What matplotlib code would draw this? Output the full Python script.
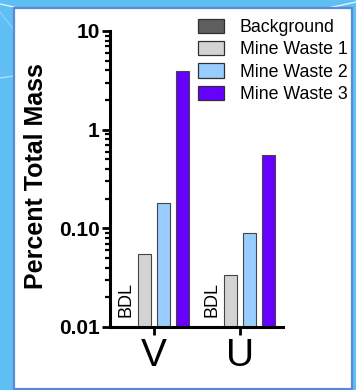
import numpy as np
import matplotlib
matplotlib.use("Agg")
import matplotlib.pyplot as plt
from matplotlib.patches import Rectangle, Patch
from matplotlib.lines import Line2D

plt.rcParams['font.family'] = ['Liberation Sans', 'DejaVu Sans']

# Elements and sample series (percent of total mass); None = below detection limit
elements = ['V', 'U']
series = ['Background', 'Mine Waste 1', 'Mine Waste 2', 'Mine Waste 3']
background = [None, None]
mine_waste_1 = [0.055, 0.034]
mine_waste_2 = [0.18, 0.09]
mine_waste_3 = [3.9, 0.56]
colors = ['#5f5f5f', '#d3d3d3', '#99ccff', '#6600ff']
ytick_values = [0.01, 0.1, 1, 10]
ytick_labels = ['0.01', '0.10', '1', '10']

W, H = 356, 390
fig = plt.figure(figsize=(W / 100, H / 100), dpi=100, facecolor='#5fbef3')

# slide backdrop: faint diagonal streaks and a white framed panel
for (x0, y0, x1, y1, a) in [(0, 4, 14, 7, 0.8), (0, 78, 14, 76, 0.5),
                            (300, 14, 356, 2, 0.8), (0, 12, 14, 30, 0.25)]:
    fig.add_artist(Line2D([x0 / W, x1 / W], [1 - y0 / H, 1 - y1 / H],
                          color='white', lw=1.0, alpha=a, zorder=-2))
fig.add_artist(Rectangle((14 / W, 1 - 389 / H), (352 - 14) / W, (389 - 8) / H,
                         transform=fig.transFigure, facecolor='white',
                         edgecolor='#5a8ad4', lw=1.6, zorder=-1))

ax = fig.add_axes([110 / W, 1 - 327 / H, (283 - 110) / W, (327 - 31) / H])
ax.set_facecolor('none')

data = [background, mine_waste_1, mine_waste_2, mine_waste_3]
x = np.arange(len(elements))
step, width = 0.22, 0.15
for i, (vals, col) in enumerate(zip(data, colors)):
    offs = x + (i - 1.5) * step
    heights = [np.nan if v is None else v for v in vals]
    ax.bar(offs, heights, width=width, color=col, edgecolor='#454545',
           linewidth=0.8, zorder=2)
    for xo, v in zip(offs, vals):
        if v is None:
            ax.text(xo, 0.0125, 'BDL', rotation=90, ha='center', va='bottom',
                    fontsize=13, zorder=3)

ax.set_yscale('log')
ax.set_ylim(0.01, 10)
ax.set_xlim(-0.512, 1.5)
ax.set_yticks(ytick_values)
ax.set_yticklabels(ytick_labels, fontsize=15, fontweight='bold')
ax.set_xticks(x)
ax.set_xticklabels(elements, fontsize=28)

for s in ['top', 'right']:
    ax.spines[s].set_visible(False)
for s in ['left', 'bottom']:
    ax.spines[s].set_linewidth(2.2)
ax.tick_params(axis='y', which='major', length=6, width=2.0, pad=1.5)
ax.tick_params(axis='y', which='minor', length=3.8, width=1.6)
ax.tick_params(axis='x', which='major', length=6, width=2.0, pad=2)
ax.tick_params(axis='x', which='minor', length=0)

fig.text(36 / W, 1 - 176 / H, 'Percent Total Mass', rotation=90, ha='center',
         va='center', fontsize=18, fontweight='bold')

handles = [Patch(facecolor=c, edgecolor='#303030', linewidth=0.9) for c in colors]
fig.legend(handles, series, loc='upper left',
           bbox_to_anchor=(198 / W, 1 - 19 / H), frameon=False,
           fontsize=12.8, borderpad=0, borderaxespad=0, handlelength=1.45,
           handleheight=0.85, handletextpad=0.9, labelspacing=0.28)

fig.savefig('out.png', dpi=100, facecolor=fig.get_facecolor())
